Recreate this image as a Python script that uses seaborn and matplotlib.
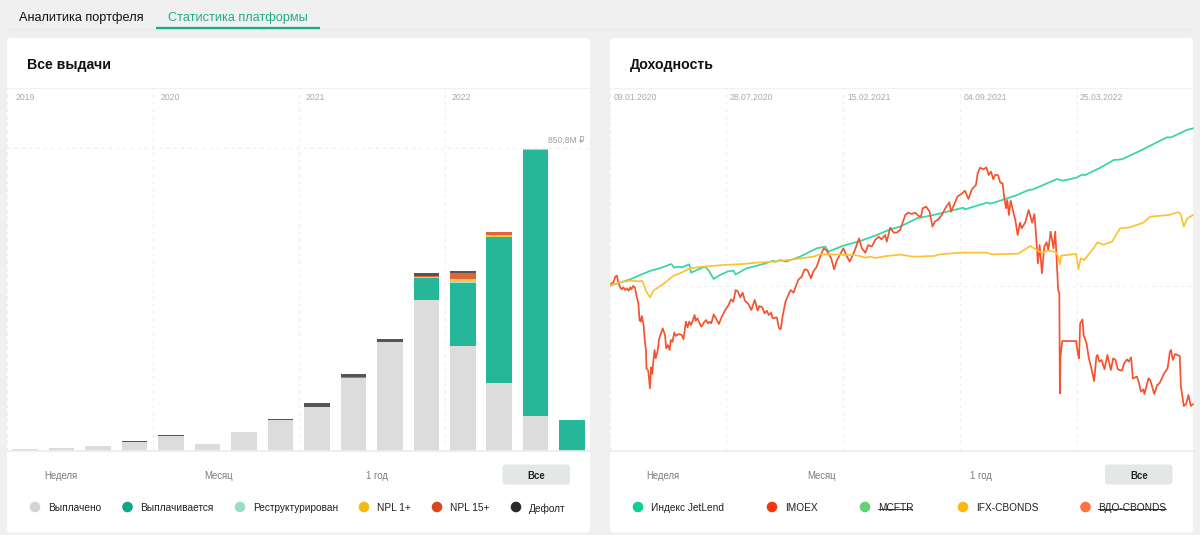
import numpy as np
import seaborn as sns
import matplotlib.pyplot as plt
from matplotlib.patches import FancyBboxPatch, Circle

# --- left chart, millions of rubles per quarter
quarters = ['19Q1', '19Q2', '19Q3', '19Q4', '20Q1', '20Q2', '20Q3', '20Q4',
            '21Q1', '21Q2', '21Q3', '21Q4', '22Q1', '22Q2', '22Q3', '22Q4']
paid = [6, 9, 13, 24, 41, 19, 52, 88, 123, 206, 305, 423, 295, 191, 97, 0]
paying = [0, 0, 0, 0, 0, 0, 0, 0, 0, 1.5, 2, 63, 177, 409, 746, 86]
restructured = [0, 0, 0, 0, 0, 0, 0, 0, 0, 0, 0, 0, 2, 0, 0, 0]
npl1 = [0, 0, 0, 0, 0, 0, 0, 0, 0, 0, 0, 2, 9, 5, 3.5, 0]
npl15 = [0, 0, 0, 0, 0, 0, 0, 0, 0, 0, 0, 3, 17, 8, 0, 0]
default = [0, 0, 0, 3, 3, 0, 2, 2, 12, 8, 8, 8, 6, 0, 0, 0]
stack_colors = ['#dcdcdc', '#25b797', '#a3e0cf', '#f6c93f', '#e0643a', '#555555']
year_ticks = [-0.5, 3.5, 7.5, 11.5]
year_labels = ['2019', '2020', '2021', '2022']
max_issue = 850.8

# --- right chart, percent change by day since 09.01.2020
date_ticks = [0, 201, 403, 604, 806]
date_labels = ['09.01.2020', '28.07.2020', '15.02.2021', '04.09.2021', '25.03.2022']

jetlend_days = [0, 17, 35, 52, 69, 86, 106, 111, 118, 124, 137, 140, 153, 164, 170, 179, 190, 204,
                213, 217, 236, 265, 282, 285, 294, 304, 328, 357, 372, 377, 403, 432, 461, 484,
                498, 501, 530, 559, 587, 610, 613, 651, 657, 674, 703, 723, 731, 772, 782, 806,
                815, 821, 847, 870, 884, 916, 962, 969, 996, 1007]
jetlend = [0, 0.9, 1.9, 3.2, 4.4, 5.2, 6.5, 5.4, 5.7, 5.5, 6.4, 3.9, 4.9, 5.7, 4.7, 2.0, 3.2, 4.3,
           4.5, 3.4, 5.2, 6.5, 7.5, 7.1, 7.7, 7.2, 8.7, 11.2, 11.7, 10.2, 12.0, 13.4, 15.2, 16.9,
           17.6, 17.7, 20.2, 21.2, 22.4, 23.4, 22.9, 24.9, 24.6, 25.5, 27.2, 28.7, 28.9, 32.0,
           31.5, 32.4, 33.3, 33.2, 35.4, 37.7, 37.9, 40.5, 44.5, 44.5, 46.7, 47.2]

imoex_days = [0, 3, 6, 9, 12, 14, 17, 20, 23, 26, 29, 32, 35, 37, 40, 43, 46, 49, 51, 53, 55, 58, 60,
              62, 63, 66, 69, 71, 73, 75, 77, 79, 82, 85, 88, 91, 95, 97, 100, 103, 105, 108, 111,
              114, 118, 124, 127, 131, 134, 137, 140, 143, 146, 148, 151, 156, 158, 162, 166, 169,
              172, 175, 179, 184, 188, 193, 199, 204, 209, 213, 217, 221, 225, 229, 233, 239, 244,
              250, 255, 258, 263, 267, 271, 274, 278, 281, 288, 292, 295, 298, 303, 308, 312, 317,
              323, 325, 331, 336, 341, 347, 351, 357, 363, 369, 374, 377, 382, 387, 392, 397, 403,
              408, 414, 418, 423, 430, 435, 441, 446, 452, 458, 464, 469, 475, 478, 484, 490, 495,
              501, 510, 515, 521, 527, 533, 537, 540, 546, 552, 557, 561, 567, 573, 579, 586, 589,
              594, 600, 608, 613, 619, 625, 632, 635, 639, 645, 650, 654, 658, 662, 665, 670, 674,
              678, 681, 684, 686, 689, 692, 697, 700, 704, 708, 711, 717, 723, 729, 733, 736, 739,
              742, 746, 750, 754, 757, 761, 766, 769, 772, 774, 776, 777, 778, 781, 805, 808, 810,
              812, 816, 818, 823, 827, 831, 836, 840, 842, 845, 849, 854, 859, 865, 869, 873, 877,
              884, 888, 893, 896, 900, 903, 910, 913, 917, 921, 923, 930, 933, 940, 945, 949, 953,
              957, 963, 967, 969, 972, 976, 984, 986, 991, 995, 999, 1003, 1007]
imoex = [0.2, 0.7, 1.0, 2.7, 3.0, 1.2, -0.3, -1.1, -0.5, -1.3, -0.8, -1.5, -0.5, -1.1, -0.1, -0.5,
         -3.3, -5.3, -10.3, -10.8, -9.1, -11.8, -16.3, -19.3, -24.8, -25.5, -30.8, -24.5, -26.5,
         -22.3, -19.3, -21.8, -19.8, -15.8, -14.3, -12.8, -14.8, -18.8, -17.8, -19.3, -16.3, -16.8,
         -14.1, -15.1, -14.5, -14.8, -16.1, -10.8, -12.5, -10.8, -11.8, -10.5, -8.8, -10.5, -9.8,
         -11.8, -12.3, -11.1, -10.3, -11.3, -10.8, -11.3, -8.6, -10.1, -11.5, -9.3, -7.3, -6.1,
         -4.1, -4.8, -1.3, -1.8, -3.5, -2.1, -4.5, -5.5, -7.3, -4.3, -7.5, -6.1, -6.5, -8.3, -7.5,
         -8.8, -8.1, -9.8, -9.5, -12.8, -13.1, -9.3, -4.8, -2.8, -1.3, -2.1, 0.7, 1.7, 2.7, 4.9,
         4.7, 2.2, 4.2, 5.7, 8.7, 11.2, 10.6, 9.7, 8.2, 4.9, 7.7, 9.2, 11.2, 9.2, 7.2, 8.7, 10.7,
         14.2, 11.2, 9.9, 12.2, 11.7, 13.7, 14.7, 13.9, 15.2, 13.2, 17.4, 15.9, 15.9, 16.7, 21.2,
         21.9, 21.5, 21.9, 20.9, 20.7, 23.2, 23.7, 22.2, 17.7, 19.2, 19.9, 21.2, 23.2, 25.0, 22.2,
         24.2, 26.7, 27.7, 28.5, 26.0, 28.9, 30.2, 33.7, 35.4, 34.9, 35.5, 33.2, 34.2, 31.9, 33.2,
         33.2, 30.9, 30.7, 26.2, 23.2, 25.7, 21.2, 25.5, 21.7, 19.7, 15.2, 18.9, 17.2, 18.9, 22.7,
         18.9, 21.5, 14.7, 6.7, 12.2, 3.7, 11.7, 13.0, 10.7, 16.2, 11.2, 16.2, 5.7, -1.3, -2.3,
         -32.3, -21.3, -16.6, -16.6, -20.3, -21.8, -11.3, -10.1, -14.8, -17.3, -21.8, -24.5, -28.6,
         -21.3, -20.8, -22.8, -22.3, -25.1, -20.8, -25.3, -21.8, -22.3, -25.1, -25.5, -23.3, -22.1,
         -22.8, -21.5, -27.8, -27.3, -28.8, -31.8, -31.1, -32.5, -27.8, -28.3, -32.5, -29.8, -29.3,
         -27.8, -26.3, -24.8, -19.8, -19.3, -22.3, -20.5, -21.1, -30.3, -36.1, -35.5, -32.8, -36.1,
         -35.5]

ifx_days = [0, 17, 35, 49, 56, 63, 69, 75, 92, 109, 127, 138, 161, 196, 230, 253, 282, 317, 351, 363,
            397, 420, 432, 441, 449, 458, 478, 501, 524, 559, 570, 605, 651, 659, 685, 705, 726, 737,
            746, 754, 769, 773, 777, 779, 805, 809, 813, 819, 835, 842, 852, 867, 881, 898, 921, 933,
            965, 982, 986, 991, 997, 1007]
ifx = [0.1, 1.0, 1.5, 1.3, 1.4, -1.8, -3.5, -1.5, 0.5, 2.9, 4.2, 5.2, 5.7, 6.2, 6.5, 6.9, 7.2, 7.9,
       8.7, 9.4, 9.3, 9.2, 8.9, 8.4, 8.7, 8.3, 8.9, 9.3, 8.7, 8.9, 9.4, 9.9, 9.9, 9.4, 9.5, 9.6, 11.9,
       10.7, 9.7, 10.5, 10.2, 9.2, 6.4, 9.0, 9.5, 4.9, 8.2, 7.7, 11.2, 13.0, 12.3, 13.2, 17.2, 17.5,
       18.9, 20.7, 21.2, 22.1, 21.2, 17.7, 20.2, 21.2]

sns.set_theme(style="white")
plt.rcParams['font.family'] = ['Liberation Sans', 'DejaVu Sans']

fig = plt.figure(figsize=(12, 5.35), dpi=100, facecolor='#f0f0f0')


def add_chart(x0, x1, y0=88, y1=451):
    # pixel box, measured from top left of the page
    ax = fig.add_axes([x0 / 1200, 1 - y1 / 535, (x1 - x0) / 1200, (y1 - y0) / 535], zorder=2)
    ax.patch.set_alpha(0)
    return ax


# page furniture lives on one full size axes in pixel units
bg = fig.add_axes([0, 0, 1, 1], zorder=1)
bg.set_xlim(0, 1200)
bg.set_ylim(535, 0)
bg.axis('off')

for px0, px1 in [(7, 590), (610, 1193)]:
    bg.add_patch(FancyBboxPatch((px0, 38), px1 - px0, 494.5, boxstyle='round,pad=0,rounding_size=4',
                                fc='white', ec='none'))
    bg.plot([px0, px1], [88, 88], color='#f0f2f1', lw=1)

bg.plot([7, 1190], [29, 29], color='#e9e9e9', lw=0.8)
bg.plot([156, 320], [28.3, 28.3], color='#0fae87', lw=1.6, solid_capstyle='butt')
bg.text(19, 17.5, 'Аналитика портфеля', fontsize=9.2, color='#111111', va='center')
bg.text(168, 17.5, 'Статистика платформы', fontsize=9.2, color='#20ad8a', va='center')
bg.text(27, 65, 'Все выдачи', fontsize=10.2, fontweight='bold', color='#111111', va='center')
bg.text(630, 65, 'Доходность', fontsize=10.2, fontweight='bold', color='#111111', va='center')

# left chart
ax1 = add_chart(7, 590)
bottom = np.zeros(len(quarters))
for values, col in zip([paid, paying, restructured, npl1, npl15, default], stack_colors):
    sns.barplot(x=quarters, y=values, order=quarters, color=col, saturation=1, width=0.7,
                bottom=bottom, errorbar=None, linewidth=0, ax=ax1)
    bottom = bottom + np.array(values)

ax1.set_xlim(-0.494, 15.49)
ax1.set_ylim(0, 1018)
ax1.set_xticks(year_ticks)
ax1.set_yticks([max_issue])
ax1.set_xticklabels([])
ax1.set_yticklabels([])
ax1.set_xlabel('')
ax1.set_ylabel('')

# right chart
ax2 = add_chart(610, 1194)
sns.lineplot(x=jetlend_days, y=jetlend, color='#35d5a5', lw=1.25, estimator=None, ax=ax2)
sns.lineplot(x=imoex_days, y=imoex, color='#f5532f', lw=1.25, estimator=None, ax=ax2)
sns.lineplot(x=ifx_days, y=ifx, color='#fdc234', lw=1.25, estimator=None, ax=ax2)
ax2.set_xlim(0, 1008.6)
ax2.set_ylim(-49.6, 59.3)
ax2.set_xticks(date_ticks)
ax2.set_yticks([0])
ax2.set_xticklabels([])
ax2.set_yticklabels([])

for ax in (ax1, ax2):
    ax.set_axisbelow(True)
    ax.grid(True, color='#eeeeee', lw=0.8, ls=(0, (3, 3.5)))
    ax.tick_params(length=0)
    sns.despine(ax=ax, left=True, top=True, right=True)
    ax.spines['bottom'].set_color('#ececec')

for px, lab in zip([16, 161, 306, 452], year_labels):
    bg.text(px, 97.5, lab, fontsize=6.2, color='#a8a8a8', va='center')
for px, lab in zip([613.5, 730, 847, 964, 1080], date_labels):
    bg.text(px, 97.5, lab, fontsize=6.2, color='#a8a8a8', va='center')
bg.text(585, 140.5, '850,8M ₽', fontsize=6.2, color='#a0a0a0', va='center', ha='right')

# period switches
for pxs, btn in [((61, 218.5, 377, 536), 502.5), ((663, 822, 981, 1139), 1105)]:
    bg.add_patch(FancyBboxPatch((btn, 464.5), 67.5, 20, boxstyle='round,pad=0,rounding_size=3',
                                fc='#e3e8e6', ec='none'))
    for px, lab in zip(pxs[:3], ['Неделя', 'Месяц', '1 год']):
        bg.text(px, 476, lab, fontsize=6.9, color='#7c7c7c', ha='center', va='center')
    bg.text(pxs[3], 476, 'Все', fontsize=6.9, fontweight='bold', color='#222222', ha='center', va='center')

# legends
left_legend = ['Выплачено', 'Выплачивается', 'Реструктурирован', 'NPL 1+', 'NPL 15+', 'Дефолт']
left_dots = ['#d4d4d4', '#0aa983', '#98dcc9', '#f0b914', '#d9481c', '#2a2a2a']
left_pos = [35, 127.5, 240, 364, 437, 516]
right_legend = ['Индекс JetLend', 'IMOEX', 'MCFTR', 'IFX-CBONDS', 'ВДО-CBONDS']
right_dots = ['#0bcf95', '#f5370f', '#5fd274', '#ffb70f', '#ff7239']
right_pos = [638, 772, 865, 963, 1085.5]

for labs, dots, pos in [(left_legend, left_dots, left_pos), (right_legend, right_dots, right_pos)]:
    for lab, col, px in zip(labs, dots, pos):
        bg.add_patch(Circle((px, 507), 5.3, fc=col, ec='none'))
        bg.text(px + 12.7, 508.3, lab, fontsize=7.25, color='#222222', va='center')

# switched off series are struck through
bg.plot([878, 912], [508.5, 508.5], color='#333333', lw=0.7)
bg.plot([1098, 1166], [508.5, 508.5], color='#333333', lw=0.7)

fig.savefig('out.png', dpi=100, facecolor=fig.get_facecolor())
